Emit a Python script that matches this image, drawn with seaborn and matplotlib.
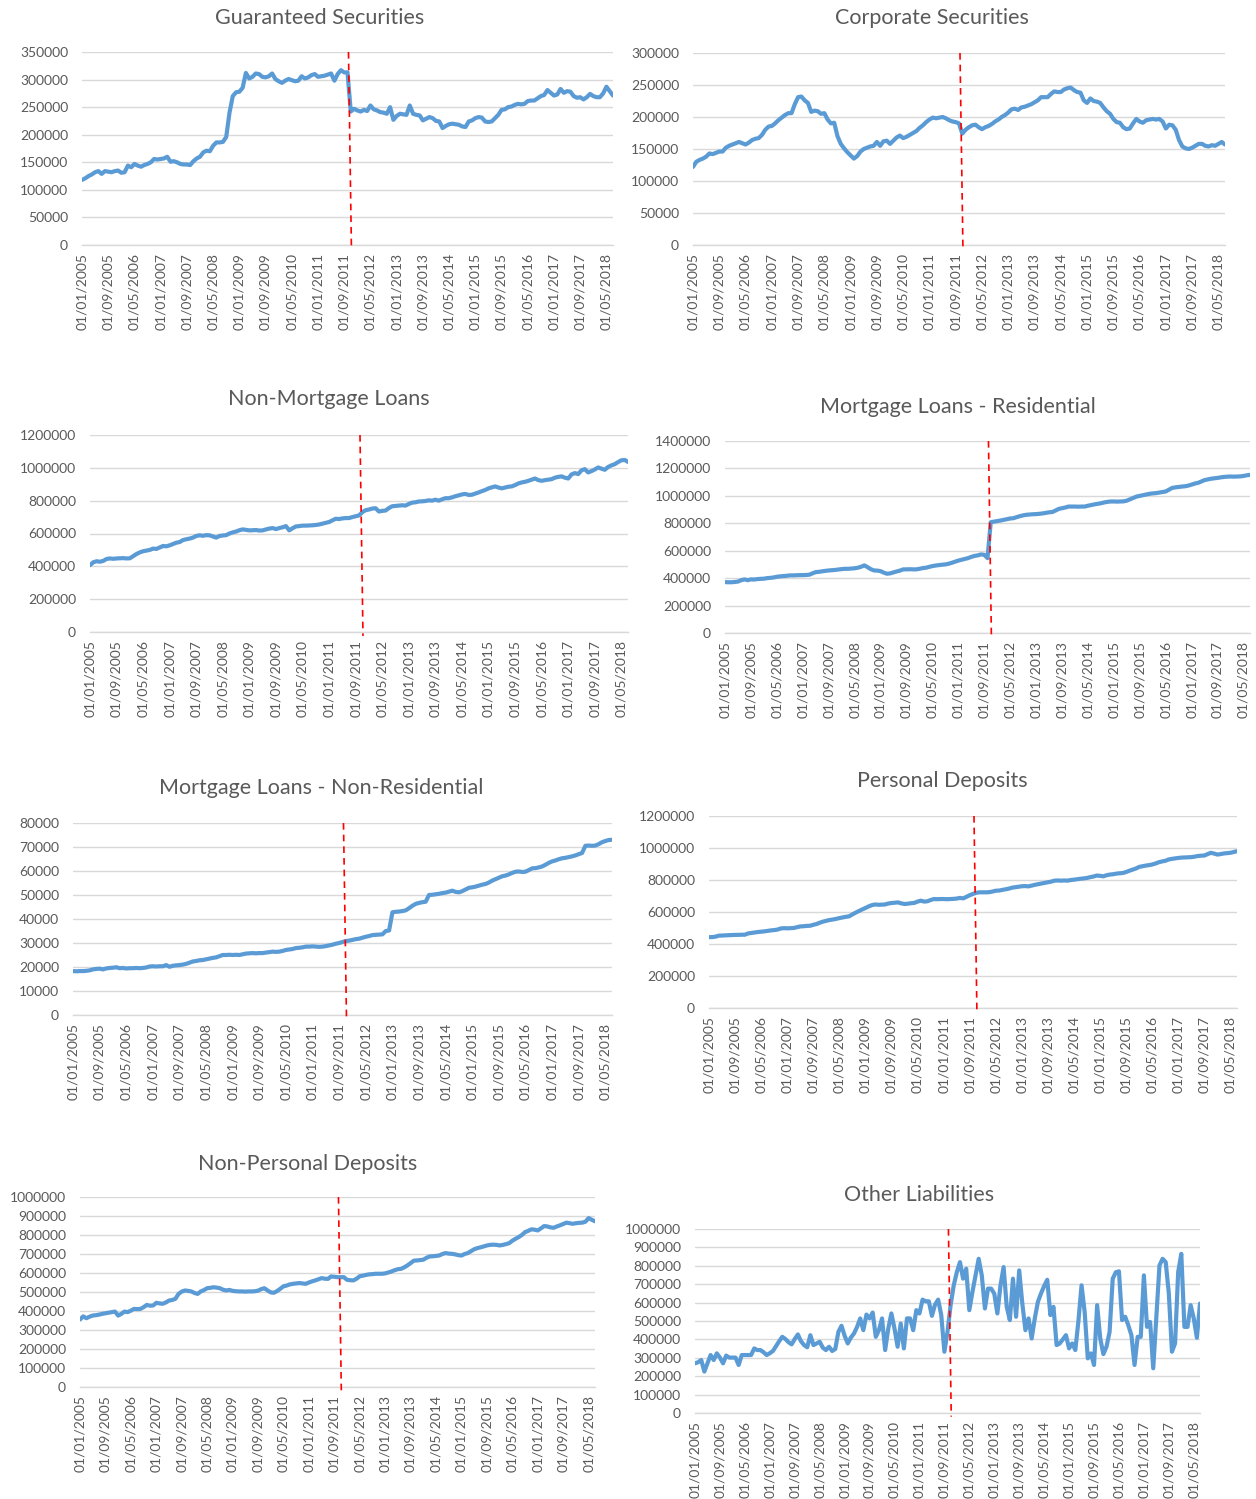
import numpy as np
import pandas as pd
import matplotlib
matplotlib.use("Agg")
import matplotlib.pyplot as plt
import matplotlib.transforms as mtransforms
import seaborn as sns

# ---------------- data (monthly values, in thousands) ----------------
guaranteed_k = [
    118, 121, 125, 128, 132, 134, 129, 134, 133, 132,
    134, 135, 131, 132, 144, 141, 147, 144, 142, 145,
    147, 150, 156, 155, 156, 157, 160, 151, 152, 150,
    147, 146, 146, 145, 152, 157, 160, 168, 171, 170,
    180, 186, 186, 187, 196, 240, 270, 277, 278, 285,
    312, 302, 305, 311, 310, 305, 304, 306, 311, 301,
    297, 294, 298, 301, 299, 297, 298, 306, 302, 304,
    308, 310, 305, 306, 307, 309, 311, 298, 310, 317,
    313, 313, 242, 247, 244, 242, 245, 243, 253, 246,
    244, 241, 240, 238, 250, 227, 234, 238, 237, 236,
    253, 238, 236, 235, 226, 229, 232, 230, 225, 224,
    212, 216, 219, 220, 219, 218, 215, 214, 224, 226,
    230, 232, 231, 224, 223, 224, 230, 236, 245, 246,
    250, 251, 254, 256, 255, 256, 261, 262, 262, 266,
    270, 272, 281, 276, 271, 273, 283, 276, 279, 278,
    270, 267, 268, 264, 268, 274, 270, 268, 268, 275,
    287, 279, 271]

corporate_k = [
    122, 130, 133, 135, 138, 143, 142, 144, 146, 146,
    152, 155, 157, 159, 161, 159, 157, 160, 164, 166,
    167, 172, 180, 185, 186, 190, 195, 199, 203, 206,
    206, 220, 231, 232, 226, 222, 208, 210, 209, 205,
    206, 196, 190, 191, 170, 158, 151, 145, 140, 135,
    139, 146, 150, 152, 154, 155, 161, 155, 162, 163,
    158, 163, 168, 171, 167, 169, 172, 175, 178, 183,
    187, 192, 196, 199, 198, 199, 200, 198, 195, 193,
    192, 190, 174, 180, 184, 187, 188, 184, 181, 184,
    186, 189, 193, 196, 200, 203, 207, 212, 213, 211,
    215, 216, 218, 220, 223, 226, 231, 231, 231, 236,
    240, 239, 239, 243, 245, 246, 242, 239, 238, 226,
    222, 229, 225, 224, 222, 215, 209, 205, 197, 192,
    191, 184, 181, 182, 190, 197, 193, 191, 195, 196,
    197, 196, 197, 193, 182, 188, 187, 180, 164, 154,
    151, 150, 152, 155, 158, 158, 155, 154, 156, 155,
    158, 161, 157]

non_mortgage_k = [
    407, 425, 431, 428, 433, 445, 448, 446, 448, 449,
    450, 448, 449, 462, 475, 485, 492, 496, 500, 508,
    506, 515, 524, 522, 528, 536, 544, 548, 560, 565,
    569, 575, 585, 589, 586, 590, 589, 582, 575, 585,
    588, 590, 600, 607, 612, 620, 625, 622, 619, 620,
    621, 618, 619, 625, 630, 633, 627, 633, 638, 645,
    619, 632, 643, 645, 648, 648, 649, 650, 652, 655,
    660, 665, 670, 680, 690, 688, 692, 694, 694, 700,
    705, 710, 730, 742, 746, 752, 754, 734, 738, 740,
    755, 766, 768, 770, 772, 770, 780, 788, 790, 795,
    796, 798, 802, 800, 806, 800, 808, 815, 815, 820,
    827, 832, 838, 841, 835, 836, 843, 850, 858, 865,
    875, 881, 887, 880, 875, 880, 885, 887, 895, 905,
    911, 915, 921, 928, 935, 925, 921, 925, 928, 931,
    940, 945, 948, 940, 935, 960, 968, 962, 985, 992,
    972, 980, 990, 1002, 995, 988, 1005, 1015, 1022, 1035,
    1046, 1048, 1036]

residential_k = [
    371, 370, 370, 372, 375, 385, 391, 385, 391, 390,
    393, 395, 396, 400, 402, 405, 410, 413, 415, 417,
    420, 420, 421, 422, 422, 423, 425, 435, 444, 446,
    450, 453, 456, 458, 460, 463, 466, 468, 468, 470,
    472, 476, 483, 493, 480, 465, 456, 455, 451, 440,
    432, 435, 442, 449, 455, 464, 464, 465, 464, 464,
    468, 473, 476, 482, 488, 492, 495, 498, 500, 505,
    512, 520, 528, 534, 540, 546, 555, 562, 566, 573,
    570, 546, 808, 812, 816, 820, 825, 830, 835, 837,
    845, 852, 858, 862, 864, 866, 867, 869, 872, 876,
    880, 882, 893, 905, 910, 915, 922, 922, 922, 921,
    922, 922, 928, 933, 938, 942, 946, 952, 956, 959,
    959, 958, 959, 960, 965, 975, 985, 995, 1000, 1005,
    1010, 1015, 1018, 1020, 1024, 1028, 1032, 1045, 1058, 1062,
    1065, 1068, 1070, 1075, 1082, 1090, 1095, 1105, 1115, 1120,
    1125, 1128, 1131, 1135, 1138, 1140, 1141, 1140, 1141, 1142,
    1145, 1150, 1153]

non_residential_k = [
    18.3, 18.2, 18.3, 18.3, 18.4, 18.6, 19.0, 19.2, 19.3, 19.0,
    19.4, 19.6, 19.7, 19.9, 19.5, 19.6, 19.4, 19.5, 19.5, 19.6,
    19.5, 19.6, 19.8, 20.2, 20.3, 20.2, 20.3, 20.3, 20.8, 20.1,
    20.5, 20.7, 20.8, 21.0, 21.3, 21.8, 22.3, 22.5, 22.8, 22.9,
    23.2, 23.5, 23.8, 24.0, 24.5, 25.0, 25.0, 25.1, 25.0, 25.1,
    25.0, 25.3, 25.6, 25.7, 25.8, 25.7, 25.8, 25.8, 26.0, 26.2,
    26.4, 26.3, 26.4, 26.7, 27.1, 27.3, 27.5, 27.9, 28.0, 28.2,
    28.5, 28.5, 28.6, 28.5, 28.4, 28.5, 28.7, 29.0, 29.3, 29.7,
    30.0, 30.4, 30.8, 31.0, 31.3, 31.6, 31.8, 32.2, 32.6, 32.9,
    33.3, 33.4, 33.5, 33.6, 35.0, 35.2, 42.8, 43.0, 43.1, 43.3,
    43.6, 44.5, 45.5, 46.3, 46.7, 47.0, 47.2, 50.0, 50.1, 50.3,
    50.5, 50.8, 51.0, 51.4, 51.8, 51.3, 51.1, 51.6, 52.3, 53.0,
    53.2, 53.5, 53.9, 54.3, 54.6, 55.2, 56.0, 56.6, 57.2, 57.8,
    58.1, 58.6, 59.2, 59.7, 59.8, 59.6, 59.7, 60.4, 61.1, 61.2,
    61.5, 61.9, 62.6, 63.4, 64.0, 64.4, 64.9, 65.3, 65.5, 65.8,
    66.1, 66.5, 67.0, 67.5, 70.5, 70.6, 70.5, 70.6, 71.2, 72.0,
    72.5, 72.9, 73.0]

personal_k = [
    443, 443, 446, 452, 453, 454, 455, 456, 457, 457,
    458, 458, 466, 469, 472, 475, 477, 479, 482, 485,
    487, 490, 497, 499, 498, 499, 500, 505, 510, 511,
    513, 514, 520, 525, 533, 540, 545, 550, 553, 557,
    562, 566, 570, 573, 585, 596, 606, 616, 625, 635,
    643, 647, 645, 646, 647, 653, 656, 658, 660, 654,
    650, 652, 655, 657, 665, 671, 665, 667, 675, 681,
    680, 681, 681, 680, 681, 682, 684, 688, 685, 695,
    705, 713, 720, 723, 723, 723, 724, 728, 733, 734,
    738, 742, 746, 752, 755, 758, 761, 762, 760, 765,
    770, 774, 778, 782, 786, 790, 796, 797, 796, 797,
    796, 800, 802, 805, 808, 810, 813, 818, 822, 828,
    826, 823, 830, 834, 836, 840, 842, 844, 850, 858,
    865, 872, 882, 886, 890, 893, 897, 903, 911, 916,
    920, 928, 932, 935, 938, 940, 941, 942, 943, 946,
    950, 952, 953, 962, 970, 965, 959, 962, 966, 968,
    970, 975, 980]

non_personal_k = [
    355, 372, 362, 370, 376, 378, 381, 385, 388, 391,
    394, 397, 376, 385, 397, 394, 402, 411, 410, 411,
    420, 432, 428, 429, 443, 440, 438, 445, 455, 458,
    464, 490, 502, 508, 506, 503, 495, 490, 503, 510,
    520, 522, 525, 523, 520, 512, 508, 511, 506, 504,
    503, 503, 502, 503, 503, 504, 507, 515, 520, 508,
    498, 496, 505, 517, 530, 534, 540, 543, 545, 547,
    545, 543, 550, 556, 561, 567, 573, 570, 569, 582,
    580, 578, 578, 578, 564, 562, 561, 570, 583, 586,
    590, 593, 594, 596, 596, 596, 598, 603, 608, 615,
    620, 622, 630, 640, 652, 665, 666, 668, 670, 680,
    687, 688, 690, 692, 700, 705, 702, 701, 698, 694,
    692, 700, 705, 715, 725, 731, 735, 740, 745, 748,
    749, 748, 745, 748, 752, 757, 770, 780, 789, 800,
    815, 822, 830, 828, 824, 835, 847, 845, 840, 838,
    845, 851, 858, 865, 862, 859, 862, 864, 865, 870,
    889, 880, 872]

other_liabilities_k = [
    270, 276, 288, 225, 270, 315, 288, 324, 301, 270,
    312, 301, 301, 301, 261, 315, 315, 315, 315, 351,
    342, 342, 330, 315, 325, 337, 364, 390, 414, 402,
    385, 373, 402, 427, 390, 369, 357, 423, 369, 378,
    387, 355, 342, 360, 337, 348, 441, 474, 420, 378,
    410, 432, 468, 514, 450, 535, 514, 546, 414, 450,
    514, 342, 459, 541, 459, 360, 486, 351, 514, 514,
    450, 559, 541, 616, 607, 607, 528, 589, 616, 532,
    333, 441, 586, 694, 766, 820, 730, 784, 559, 658,
    748, 838, 748, 568, 676, 676, 649, 541, 694, 793,
    577, 505, 730, 523, 775, 595, 450, 514, 405, 514,
    604, 650, 690, 724, 532, 577, 369, 378, 400, 423,
    351, 378, 342, 500, 694, 550, 297, 324, 261, 586,
    405, 320, 360, 441, 730, 765, 770, 505, 523, 477,
    423, 261, 414, 414, 748, 468, 495, 243, 520, 802,
    838, 820, 650, 333, 378, 766, 865, 468, 468, 586,
    514, 409, 595]

titles = ["Guaranteed Securities", "Corporate Securities",
          "Non-Mortgage Loans", "Mortgage Loans - Residential",
          "Mortgage Loans - Non-Residential", "Personal Deposits",
          "Non-Personal Deposits", "Other Liabilities"]
series_k = [guaranteed_k, corporate_k, non_mortgage_k, residential_k,
            non_residential_k, personal_k, non_personal_k, other_liabilities_k]
y_max = [350000, 300000, 1200000, 1400000, 80000, 1200000, 1000000, 1000000]
y_step = [50000, 50000, 200000, 200000, 10000, 200000, 100000, 100000]

START_MONTH = "2005-01-01"
N_MONTHS = len(guaranteed_k)
months = pd.date_range(START_MONTH, periods=N_MONTHS, freq="MS")
TICK_EVERY = 8
tick_pos = list(range(0, N_MONTHS - 1, TICK_EVERY))
tick_labels = [months[i].strftime("%d/%m/%Y") for i in tick_pos]
BREAK_TOP, BREAK_BOTTOM = 81.3, 82.2   # structural-break marker (Nov 2011)

# ---------------- layout (pixel boxes: left, top, right, bottom) ----------------
W, H = 1256, 1499
boxes = [(82, 52, 613, 245), (693, 53, 1225, 245),
         (90, 435, 628, 632), (725, 441, 1250, 633),
         (73, 823, 612, 1015), (709, 816, 1237, 1008),
         (80, 1197, 595, 1387), (695, 1229, 1200, 1413)]
title_xy = [(320, 18), (932, 18), (329, 399), (958, 407),
            (321, 788), (942, 781), (308, 1164), (919, 1195)]

sns.set_style("white")
plt.rcParams["font.family"] = ["Lato", "DejaVu Sans"]

LINE = "#5B9BD5"
TXT = "#595959"
GRID = "#D9D9D9"

fig = plt.figure(figsize=(W / 100, H / 100), dpi=100)
fig.patch.set_facecolor("white")

for k in range(8):
    l, t, r, b = boxes[k]
    ax = fig.add_axes([l / W, 1 - b / H, (r - l) / W, (b - t) / H])
    df = pd.DataFrame({"month": np.arange(N_MONTHS),
                       "value": np.asarray(series_k[k], dtype=float) * 1000})
    sns.lineplot(data=df, x="month", y="value", ax=ax, color=LINE,
                 linewidth=3.0, zorder=3)
    ax.set_xlim(0, N_MONTHS - 1)
    ax.set_ylim(0, y_max[k])
    ax.set_yticks(np.arange(0, y_max[k] + 1, y_step[k]))
    ax.set_yticklabels([f"{int(v)}" for v in np.arange(0, y_max[k] + 1, y_step[k])])
    ax.set_xticks(tick_pos)
    ax.set_xticklabels(tick_labels, rotation=90)
    ax.set_xlabel("")
    ax.set_ylabel("")
    ax.grid(axis="y", color=GRID, linewidth=1.0, zorder=0)
    ax.grid(axis="x", visible=False)
    for s in ["left", "right", "top"]:
        ax.spines[s].set_visible(False)
    ax.spines["bottom"].set_color(GRID)
    ax.spines["bottom"].set_linewidth(1.0)
    ax.tick_params(axis="y", length=0, pad=10, labelsize=10, labelcolor=TXT)
    ax.tick_params(axis="x", length=4, width=1.0, color=GRID, pad=2,
                   labelsize=10, labelcolor=TXT)
    ax.set_facecolor("none")
    trans = mtransforms.blended_transform_factory(ax.transData, ax.transAxes)
    ax.plot([BREAK_TOP, BREAK_BOTTOM], [1.0, -0.02], transform=trans,
            color="#FF0000", linewidth=1.2, linestyle=(0, (4, 3)),
            clip_on=False, zorder=4)
    tx, ty = title_xy[k]
    fig.text(tx / W, 1 - ty / H, titles[k], ha="center", va="center",
             fontsize=15.5, color=TXT)

fig.savefig("out.png", dpi=100, facecolor="white")
